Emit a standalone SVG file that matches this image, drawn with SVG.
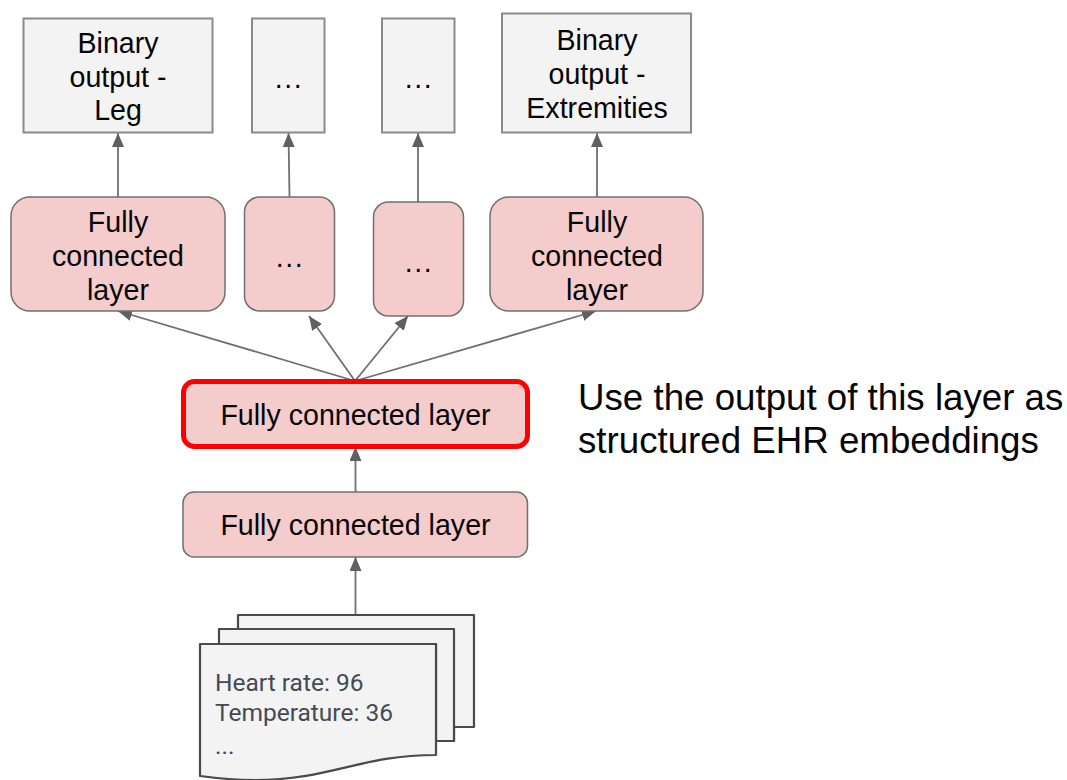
<svg xmlns="http://www.w3.org/2000/svg" width="1067" height="780" viewBox="0 0 1067 780">
<style>
text{font-family:"Liberation Sans",Arial,sans-serif;font-size:28.6px;fill:#050505;text-anchor:middle}
.o{fill:#f3f3f3;stroke:#8a8a8a;stroke-width:2}
.f{fill:#f4cccc;stroke:#707070;stroke-width:1.5}
.d{fill:#f3f3f3;stroke:#4a4a4a;stroke-width:2.2;stroke-linejoin:round}
.c{stroke:#707070;stroke-width:1.8;fill:none;marker-end:url(#a)}
text.m{letter-spacing:1.6px}
text.r{font-family:Roboto,sans-serif;font-size:24.5px;fill:#434a54;text-anchor:start}
text.n{font-size:36.7px;text-anchor:start}
</style>
<defs><marker id="a" markerUnits="userSpaceOnUse" markerWidth="15" markerHeight="14" refX="14" refY="6" orient="auto"><path d="M0 0L14 6L0 12Z" fill="#606060"/></marker></defs>
<g id="connectors">
<path class="c" d="M118 197V133"/>
<path class="c" d="M289.500 197L288.500 133"/>
<path class="c" d="M418 202V133"/>
<path class="c" d="M597 197V133"/>
<path class="c" d="M355 381L118 311"/>
<path class="c" d="M355 381L309 316"/>
<path class="c" d="M355 381L408 316"/>
<path class="c" d="M355 381L596 311"/>
<path class="c" d="M355.500 492V447"/>
<path class="c" d="M355.500 615V557"/>
</g>
<g id="out-leg"><rect class="o" x="23.500" y="18.500" width="189" height="114"/><text x="118" y="53">Binary</text><text x="118" y="87">output -</text><text x="118" y="120">Leg</text></g>
<g id="out-2"><rect class="o" x="252" y="18.500" width="72.500" height="114"/><text class="m" x="289" y="87.500">...</text></g>
<g id="out-3"><rect class="o" x="382" y="18.500" width="72.500" height="114"/><text class="m" x="419" y="87.500">...</text></g>
<g id="out-ext"><rect class="o" x="502" y="13.500" width="189" height="119"/><text x="597" y="50">Binary</text><text x="597" y="84">output -</text><text x="597" y="118">Extremities</text></g>
<g id="fc-leg"><rect class="f" x="11" y="197" width="214" height="114" rx="19"/><text x="118" y="232">Fully</text><text x="118" y="266">connected</text><text x="118" y="300">layer</text></g>
<g id="fc-2"><rect class="f" x="244.500" y="197" width="90" height="114" rx="15"/><text class="m" x="290" y="266.500">...</text></g>
<g id="fc-3"><rect class="f" x="373.500" y="202" width="90" height="114" rx="15"/><text class="m" x="419" y="271.500">...</text></g>
<g id="fc-ext"><rect class="f" x="490" y="197" width="213" height="114" rx="19"/><text x="597" y="232">Fully</text><text x="597" y="266">connected</text><text x="597" y="300">layer</text></g>
<g id="fc-embed"><rect x="183.500" y="381.500" width="344" height="65" rx="11" fill="#f4cccc" stroke="#ff0000" stroke-width="5"/><text x="355.500" y="425">Fully connected layer</text></g>
<g id="fc-input"><rect class="f" x="183" y="492" width="344.500" height="65" rx="11"/><text x="355.500" y="535">Fully connected layer</text></g>
<g id="docs">
<path class="d" d="M238 615H474V727H454V741H436V644H238Z"/>
<path class="d" d="M219 629H454V741H436V644H219Z"/>
<path class="d" d="M200 644H436V755C360 755 330 780 255 780C230 780 215 778 200 776Z"/>
<text class="r" x="215" y="691">Heart rate: 96</text><text class="r" x="215" y="721">Temperature: 36</text><text class="r" x="215" y="754">...</text>
</g>
<g id="note"><text class="n" x="578" y="410">Use the output of this layer as</text><text class="n" x="578" y="453">structured EHR embeddings</text></g>
</svg>
